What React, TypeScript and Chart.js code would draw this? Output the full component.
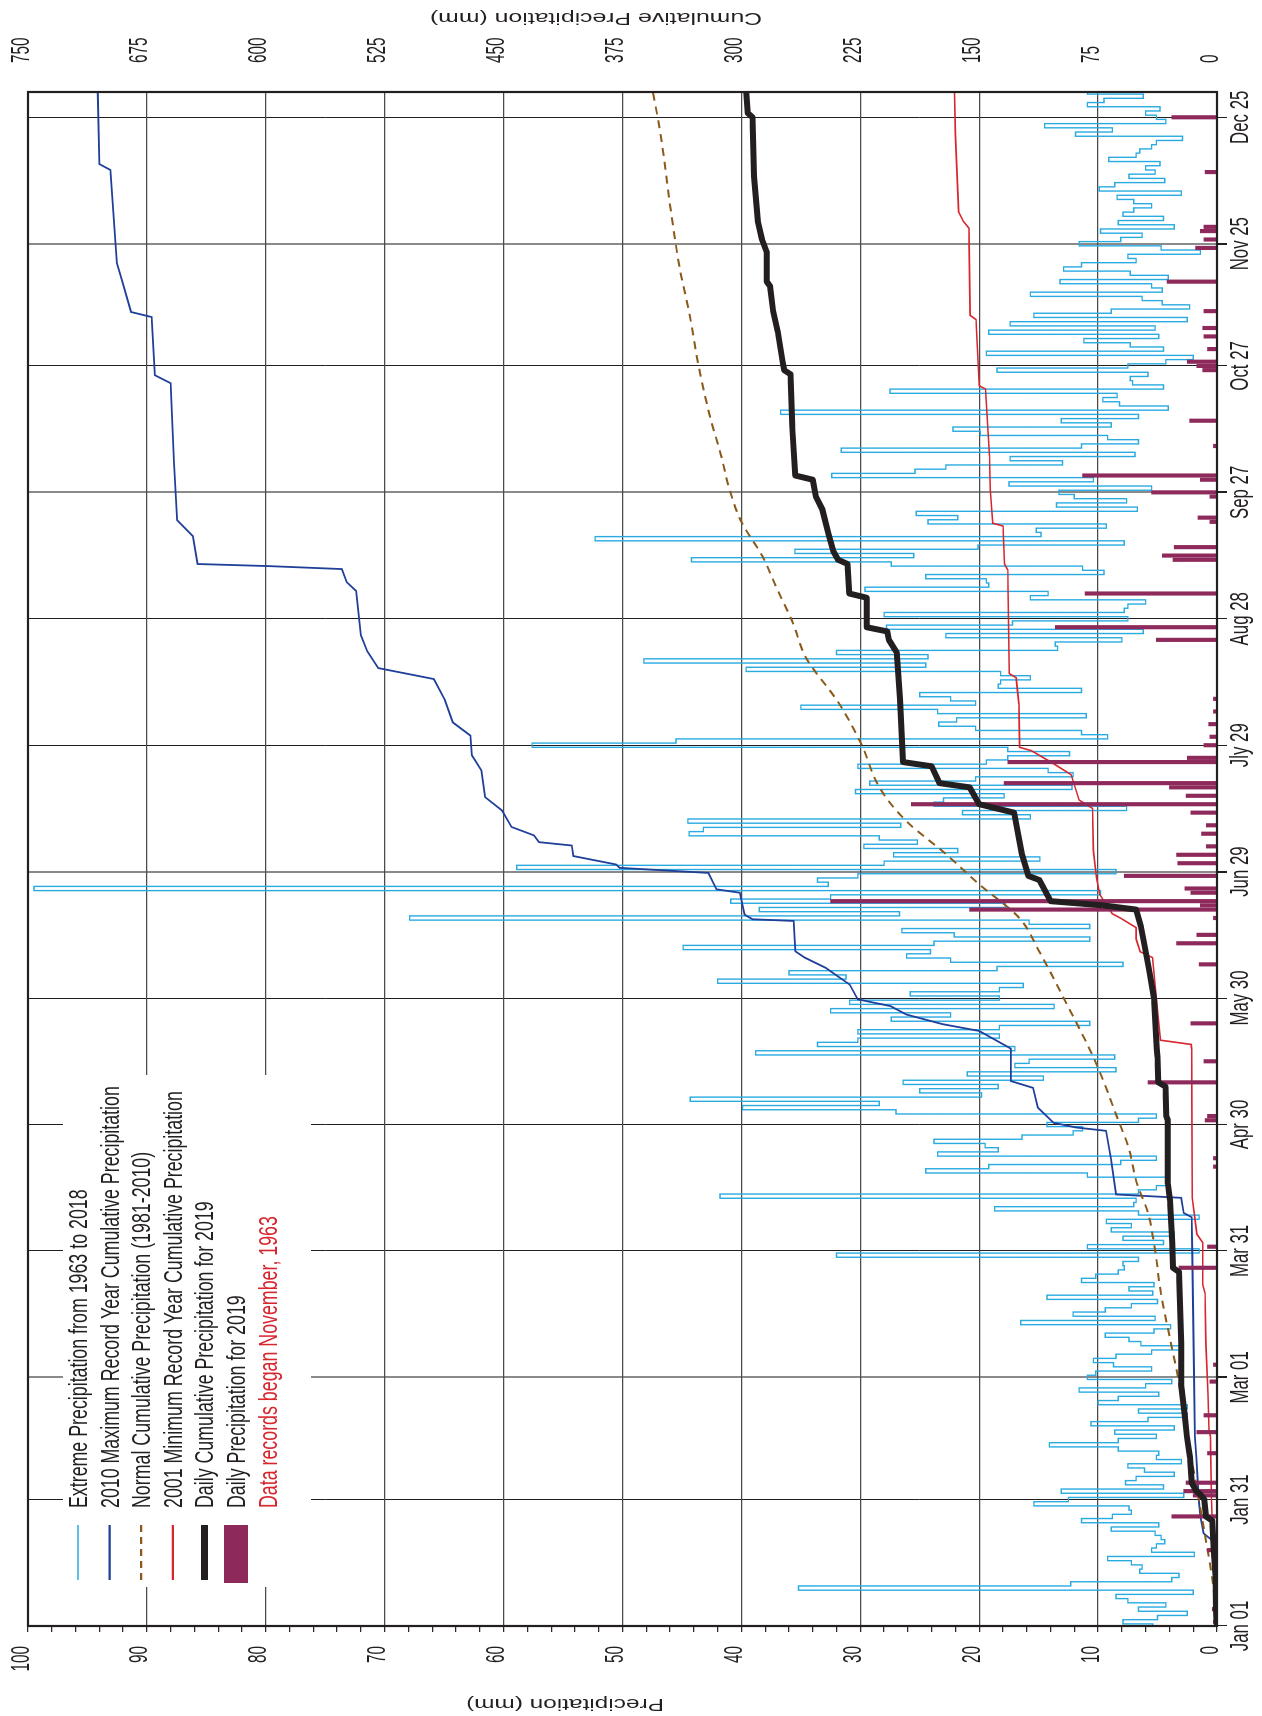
import React, { useEffect, useRef } from 'react';
import { Chart, registerables } from 'chart.js';

Chart.register(...registerables);

// ---------------- data ----------------
const tickDays = [0, 30, 59, 89, 119, 149, 179, 209, 239, 269, 299, 328, 358];
const tickLabels = ['Jan 01', 'Jan 31', 'Mar 01', 'Mar 31', 'Apr 30', 'May 30', 'Jun 29', 'Jly 29', 'Aug 28', 'Sep 27', 'Oct 27', 'Nov 25', 'Dec 25'];

const precipTicks = Array.from({ length: 51 }, (_, i) => i * 2);
const precipLabelTicks = [0, 10, 20, 30, 40, 50, 60, 70, 80, 90, 100];
const cumTicks = [0, 75, 150, 225, 300, 375, 450, 525, 600, 675, 750];

// Extreme daily precipitation 1963-2018, one value per day starting Jan 01
const extremeValues = [
  5.4, 7.9, 5.0, 2.5, 6.6, 4.3, 7.5, 8.5, 2.0, 35.2,
  12.3, 3.8, 3.2, 6.5, 6.3, 7.2, 9.2, 1.9, 5.5, 5.1,
  4.4, 4.7, 5.2, 8.9, 4.9, 11.4, 8.8, 7.2, 7.4, 15.4,
  12.5, 2.8, 13.1, 4.5, 7.7, 6.8, 3.6, 6.1, 7.5, 3.0,
  5.1, 4.9, 8.3, 14.1, 8.3, 5.1, 8.6, 3.6, 10.6, 5.8,
  2.5, 6.6, 2.5, 10.0, 8.3, 4.9, 11.6, 6.0, 3.8, 10.9,
  10.2, 5.5, 8.7, 10.4, 8.5, 5.5, 3.0, 6.4, 7.4, 9.4,
  5.3, 3.9, 16.5, 5.2, 12.1, 9.4, 7.2, 5.0, 14.3, 5.4,
  7.4, 5.3, 11.4, 10.2, 8.3, 7.8, 7.9, 6.6, 32.0, 1.5,
  10.9, 4.5, 7.9, 3.6, 8.9, 7.2, 9.3, 1.5, 6.6, 18.7,
  7.0, 6.8, 41.8, 6.6, 5.1, 4.2, 4.1, 10.9, 24.5, 19.2,
  8.1, 5.1, 23.5, 18.4, 19.5, 23.8, 16.4, 12.1, 11.3, 14.3,
  6.6, 5.1, 27.0, 39.9, 28.4, 44.3, 19.8, 25.0, 18.4, 26.4,
  14.6, 21.0, 8.5, 17.0, 15.8, 8.6, 38.8, 17.0, 33.6, 30.2,
  18.3, 30.2, 18.3, 10.7, 27.4, 22.4, 32.5, 13.7, 30.9, 18.3,
  25.8, 18.3, 16.3, 42.0, 31.2, 36.0, 18.5, 7.9, 22.4, 26.1,
  24.1, 44.9, 23.8, 10.7, 22.1, 26.5, 10.7, 15.8, 67.9, 26.7,
  38.5, 17.8, 40.9, 32.5, 9.8, 99.5, 32.7, 33.6, 30.2, 8.5,
  58.9, 28.0, 14.9, 27.2, 21.8, 29.7, 25.2, 28.4, 44.4, 43.2,
  26.6, 44.5, 15.7, 21.4, 7.6, 23.8, 23.0, 17.9, 30.4, 12.2,
  29.2, 20.3, 12.1, 14.2, 30.2, 19.4, 17.6, 12.4, 17.6, 57.6,
  45.5, 9.2, 11.4, 20.3, 23.4, 21.9, 11.0, 23.5, 35.0, 20.3,
  22.4, 25.0, 11.4, 18.4, 18.2, 15.7, 18.2, 39.6, 24.5, 48.2,
  24.3, 32.0, 13.4, 13.6, 8.0, 22.8, 6.2, 27.8, 17.2, 7.5,
  28.0, 7.8, 7.5, 6.0, 15.7, 14.2, 29.6, 19.2, 19.4, 24.5,
  9.5, 11.3, 27.4, 44.2, 25.5, 35.5, 20.1, 7.8, 52.3, 14.8,
  15.2, 9.3, 24.3, 21.8, 25.3, 6.7, 13.5, 7.6, 12.0, 13.3,
  5.5, 17.5, 10.4, 32.4, 25.4, 22.8, 13.0, 17.4, 6.9, 31.6,
  11.4, 6.6, 9.2, 19.9, 22.2, 8.9, 13.1, 6.6, 36.7, 4.1,
  8.2, 9.6, 8.4, 27.5, 4.5, 7.1, 7.3, 5.8, 18.5, 7.5,
  4.3, 2.0, 19.4, 4.5, 7.3, 11.2, 4.9, 19.2, 5.2, 17.4,
  2.5, 15.4, 8.9, 2.3, 4.6, 6.3, 15.7, 4.6, 5.5, 13.2,
  4.1, 7.3, 12.9, 11.4, 6.8, 7.5, 1.4, 4.7, 11.6, 8.1,
  6.3, 9.8, 3.6, 8.3, 4.5, 7.9, 7.0, 5.5, 7.0, 8.4,
  3.0, 9.9, 8.6, 4.4, 7.4, 5.2, 6.0, 4.8, 9.1, 6.8,
  6.5, 5.5, 5.1, 2.9, 11.9, 8.8, 14.5, 4.3, 5.1, 6.0,
  4.8, 10.9, 9.5, 6.2, 10.9,
];

const max2010Days = [0, 10, 20, 22, 26, 30, 40, 45, 60, 89, 97, 98, 101.6, 102.4, 111, 117.5, 118.3, 119.4, 123, 127.7, 129.3, 137, 141.2, 142.8, 145.1, 147.1, 148.7, 152.2, 156.2, 158.6, 160.1, 167.3, 167.7, 168.8, 174, 174.8, 178.7, 179.9, 180.7, 182.7, 185.2, 186, 187.6, 189.6, 193.5, 196.7, 203, 206.6, 211.3, 214.4, 219.7, 224.7, 227.3, 231.3, 235.1, 245.6, 247.7, 250.8, 251.5, 252, 258.6, 262.4, 276.6, 294.9, 296.8, 310.6, 311.8, 319.6, 323.4, 345.5, 346.9, 364];
const max2010Values = [0, 0.5, 2, 8.5, 10.5, 11.5, 13, 14, 14.5, 15.6, 16, 21, 22.6, 63.7, 67, 70, 89, 103, 113, 116, 130, 130, 150, 173, 196, 206, 226.6, 231.7, 247, 260, 266, 267, 293, 298, 301, 315.7, 320.8, 376.8, 379, 406, 407, 427.7, 430.8, 445, 451, 461.7, 464, 470, 471, 482, 487, 494, 529, 536, 540, 543, 549, 552, 598, 643, 646, 656, 658, 660, 670, 672, 685, 691, 694, 698, 705, 706];

const normalDays = [0, 10, 17.5, 29, 45, 59, 67, 79, 89, 97.7, 105.6, 113.5, 121.4, 129.3, 135, 149, 160, 168, 176, 183.5, 191, 199, 209, 219, 230, 238, 246, 254, 262, 270, 278, 287, 299, 311, 322, 338, 354, 364];
const normalValues = [0, 2.5, 5.7, 11, 18.5, 24.6, 29, 35.4, 39, 43.3, 51, 55.8, 63.7, 71.6, 78, 96.7, 112, 124.7, 150, 172, 196, 213, 224, 238.6, 259.6, 267.5, 277.4, 287, 300, 307.7, 313, 319.8, 327, 332.6, 338.8, 345.3, 351, 355.8];

const min2001Days = [0, 10, 20, 30, 45, 46.5, 55, 67, 79, 81, 91, 93, 101.6, 137, 138, 139, 148, 158.6, 160, 163, 165.7, 168, 169, 173.6, 177.5, 184, 194, 196, 202, 204.6, 207.7, 208.5, 218.8, 225, 226, 250.6, 252, 261, 261.7, 269.7, 277.6, 293.5, 294.3, 310, 311, 331.7, 333.3, 335.6, 354, 364];
const min2001Values = [0, 1.5, 2.5, 3.5, 4.2, 5, 5.7, 7, 7.6, 9, 9, 12.7, 15.6, 16, 16.3, 35.6, 38, 40.7, 48.4, 51, 51, 61, 66, 74, 76, 78, 78.5, 87, 92, 103, 117, 124.5, 125, 126.7, 131, 132, 134, 135, 141.5, 143, 143.5, 146, 150, 152, 155.7, 156.5, 160, 163, 165, 165.6];

const cum2019Days = [0, 1, 4, 12, 18, 25, 26, 30, 31, 32, 34, 40, 45, 50, 57, 67, 84, 85, 91, 101, 105, 120, 121, 128, 129, 135, 137, 149, 156, 162, 166, 170, 171, 172, 177, 178, 183, 193, 195, 199, 200, 204, 205, 220, 231, 234, 236, 237, 244, 245, 252, 253, 255, 259, 265, 268, 272, 273, 285, 297, 298, 300, 307, 312, 318, 319, 326, 329, 333, 344, 358, 359, 364];
const cum2019Values = [0, 0.3, 0.7, 1, 2, 3, 7, 8, 10, 13, 16, 17, 19, 20.4, 22.6, 22.6, 24, 27.7, 28.3, 29.7, 31, 31, 32, 32.5, 37, 37.5, 38, 39.7, 43, 46, 48, 51, 72, 105, 112, 119, 123, 128, 150, 156, 175, 180, 198, 200, 202, 207, 208, 221, 221, 232, 233, 239, 242, 245, 249, 253, 255, 266, 268, 269, 273, 274, 277, 280, 282, 284, 284, 287, 289.5, 292, 293, 296, 297];

const daily2019Days = [1, 4, 12, 18, 26, 31, 32, 34, 41, 46, 50, 58, 62, 85, 90, 109, 111, 120, 121, 129, 134, 143, 157, 162, 164, 168, 170, 171, 172, 174, 175, 178, 181, 183, 185, 188, 190, 193, 195, 197, 199, 200, 205, 206, 209, 211, 214, 217, 220, 234, 237, 245, 253, 254, 256, 262, 263, 268, 269, 272, 273, 280, 286, 298, 299, 300, 303, 306, 308, 312, 319, 327, 329, 331, 332, 345, 358];
const daily2019Values = [0.3, 0.4, 0.3, 0.8, 3.8, 2.0, 2.8, 2.6, 0.8, 1.7, 1.1, 0.6, 0.3, 3.2, 0.8, 0.3, 0.3, 1.0, 0.8, 5.8, 1.1, 2.2, 1.5, 3.4, 1.7, 0.3, 20.8, 1.4, 32.5, 2.2, 2.7, 7.8, 3.3, 3.4, 0.9, 1.3, 0.9, 2.2, 25.7, 2.6, 4.0, 17.9, 17.6, 2.5, 1.1, 0.6, 0.7, 0.3, 0.3, 5.1, 13.6, 11.1, 3.7, 4.6, 3.6, 0.6, 1.6, 0.6, 5.5, 1.4, 11.3, 0.3, 2.3, 1.2, 1.7, 2.5, 0.8, 1.1, 1.2, 1.1, 4.2, 1.8, 1.1, 1.4, 1.1, 1.0, 3.8];

const legendLabels = [
  'Extreme Precipitation from 1963 to 2018',
  '2010 Maximum Record Year Cumulative Precipitation',
  'Normal Cumulative Precipitation (1981-2010)',
  '2001 Minimum Record Year Cumulative Precipitation',
  'Daily Cumulative Precipitation for 2019',
  'Daily Precipitation for 2019',
];
const legendNote = 'Data records began November, 1963';
const precipTitle = 'Precipitation (mm)';
const cumTitle = 'Cumulative Precipitation (mm)';

// ---------------- styles ----------------
const FONT = '"Liberation Sans", Arial, Helvetica, sans-serif';
const INK = '#231f20';
const C_EXTREME = '#29abe2';
const C_MAX = '#1f3f99';
const C_NORMAL = '#8b5a1b';
const C_MIN = '#d7262e';
const C_2019 = '#231f20';
const C_DAILY = '#8e2a5b';
const GRAY_TICK_INDEXES = [2, 6, 9, 11];

// canvas is drawn in the un-rotated orientation, then rotated -90deg with CSS
const CW = 1716;
const CH = 1262;

const pts = (xs: number[], ys: number[]) => xs.map((x, i) => ({ x, y: ys[i] }));

// text with separate sizes along canvas x (sx) and canvas y (sy)
function drawText(ctx: any, text: string, x: number, y: number, sx: number, sy: number, align: string, baseline: string, color: string) {
  ctx.save();
  ctx.translate(x, y);
  ctx.scale(sx / sy, 1);
  ctx.font = `${sy}px ${FONT}`;
  ctx.textAlign = align;
  ctx.textBaseline = baseline;
  ctx.fillStyle = color;
  ctx.fillText(text, 0, 0);
  ctx.restore();
}

// text reading bottom-to-top in the canvas (upside-down once the page is rotated)
function drawTitle(ctx: any, text: string, x: number, y: number, along: number, across: number) {
  ctx.save();
  ctx.translate(x, y);
  ctx.rotate(-Math.PI / 2);
  ctx.scale(1, across / along);
  ctx.font = `${along}px ${FONT}`;
  ctx.textAlign = 'center';
  ctx.textBaseline = 'alphabetic';
  ctx.fillStyle = INK;
  ctx.fillText(text, 0, 0);
  ctx.restore();
}

const overlayPlugin = {
  id: 'overlay',
  beforeDatasetsDraw(chart: any) {
    const { ctx } = chart;
    ctx.save();
    ctx.fillStyle = '#ffffff';
    ctx.fillRect(129, 63, 512, 248);
    ctx.restore();
  },
  afterDatasetsDraw(chart: any) {
    const { ctx, chartArea: a } = chart;
    ctx.save();
    ctx.strokeStyle = INK;
    ctx.lineWidth = 2.2;
    ctx.strokeRect(a.left, a.top, a.right - a.left, a.bottom - a.top);
    ctx.restore();
  },
  afterDraw(chart: any) {
    const { ctx, scales } = chart;
    const sx = scales.x;
    const sy = scales.y;
    const sy2 = scales.y2;

    // date labels
    tickDays.forEach((d, i) => {
      drawText(ctx, tickLabels[i], sx.getPixelForValue(d), 1248, 16.8, 25, 'center', 'alphabetic', INK);
    });
    // precipitation labels
    precipLabelTicks.forEach((v) => {
      drawText(ctx, String(v), 70, sy.getPixelForValue(v) + 0.5, 15.3, 26, 'right', 'alphabetic', INK);
    });
    // cumulative labels
    cumTicks.forEach((v) => {
      drawText(ctx, String(v), 1653, sy2.getPixelForValue(v) + 0.5, 15.3, 26, 'left', 'alphabetic', INK);
    });
    // titles
    drawTitle(ctx, precipTitle, 17, 565, 24.4, 16.8);
    drawTitle(ctx, cumTitle, 1703, 596, 24.8, 16.8);

    // legend
    ctx.save();
    const x0 = 136;
    const x1 = 191;
    const tx = 208;
    const rowY = (i: number) => 78 + 31.6 * i;
    const line = (y: number) => {
      ctx.beginPath();
      ctx.moveTo(x0, y);
      ctx.lineTo(x1, y);
      ctx.stroke();
    };
    const markers: Array<(y: number) => void> = [
      (y) => { ctx.strokeStyle = C_EXTREME; ctx.lineWidth = 1.6; ctx.setLineDash([]); line(y); },
      (y) => { ctx.strokeStyle = C_MAX; ctx.lineWidth = 2.2; ctx.setLineDash([]); line(y); },
      (y) => { ctx.strokeStyle = C_NORMAL; ctx.lineWidth = 2.2; ctx.setLineDash([7, 5]); line(y); },
      (y) => { ctx.strokeStyle = C_MIN; ctx.lineWidth = 2.2; ctx.setLineDash([]); line(y); },
      (y) => { ctx.strokeStyle = C_2019; ctx.lineWidth = 7; ctx.setLineDash([]); line(y); },
      (y) => { ctx.fillStyle = C_DAILY; ctx.fillRect(x0 - 3, y - 12, x1 - x0 + 3, 24); },
    ];
    legendLabels.forEach((label, i) => {
      const y = rowY(i);
      markers[i](y);
      ctx.setLineDash([]);
      drawText(ctx, label, tx, y + 9, 17.8, 25.5, 'left', 'alphabetic', INK);
    });
    drawText(ctx, legendNote, tx, rowY(legendLabels.length) + 9, 17.8, 25.5, 'left', 'alphabetic', C_MIN);
    ctx.restore();
  },
};

export default function App() {
  const ref = useRef<HTMLCanvasElement | null>(null);

  useEffect(() => {
    const canvas = ref.current;
    if (!canvas) return;
    Chart.defaults.font.family = FONT;
    const chart = new Chart(canvas, {
      type: 'line',
      data: {
        datasets: [
          {
            type: 'line',
            label: legendLabels[4],
            data: pts(cum2019Days, cum2019Values),
            yAxisID: 'y2',
            borderColor: C_2019,
            borderWidth: 6,
            pointRadius: 0,
            tension: 0,
            borderJoinStyle: 'round',
            borderCapStyle: 'butt',
            order: 0,
          },
          {
            type: 'bar',
            label: legendLabels[5],
            data: pts(daily2019Days, daily2019Values),
            yAxisID: 'y',
            backgroundColor: C_DAILY,
            borderWidth: 0,
            barThickness: 3.5,
            order: 1,
          },
          {
            type: 'line',
            label: legendLabels[3],
            data: pts(min2001Days, min2001Values),
            yAxisID: 'y2',
            borderColor: C_MIN,
            borderWidth: 1.6,
            pointRadius: 0,
            tension: 0,
            order: 2,
          },
          {
            type: 'line',
            label: legendLabels[2],
            data: pts(normalDays, normalValues),
            yAxisID: 'y2',
            borderColor: C_NORMAL,
            borderWidth: 2,
            borderDash: [8, 6],
            pointRadius: 0,
            cubicInterpolationMode: 'monotone',
            order: 3,
          },
          {
            type: 'line',
            label: legendLabels[1],
            data: pts(max2010Days, max2010Values),
            yAxisID: 'y2',
            borderColor: C_MAX,
            borderWidth: 1.8,
            pointRadius: 0,
            tension: 0,
            order: 4,
          },
          {
            type: 'line',
            label: legendLabels[0],
            data: extremeValues.map((v, i) => ({ x: i, y: v })),
            yAxisID: 'y',
            borderColor: C_EXTREME,
            borderWidth: 1.4,
            pointRadius: 0,
            stepped: 'middle',
            order: 5,
          },
        ],
      },
      options: {
        responsive: false,
        animation: false,
        devicePixelRatio: 1,
        layout: { padding: { top: 28, left: 0, right: 0, bottom: 0 } },
        plugins: { legend: { display: false }, tooltip: { enabled: false } },
        scales: {
          x: {
            type: 'linear',
            min: 0,
            max: 364,
            offset: false,
            afterBuildTicks: (axis: any) => {
              axis.ticks = tickDays.map((v) => ({ value: v }));
            },
            afterFit: (s: any) => {
              s.height = 45;
            },
            ticks: { display: false, autoSkip: false },
            grid: {
              offset: false,
              color: (c: any) => (GRAY_TICK_INDEXES.includes(c.index) ? '#8a8a8a' : INK),
              lineWidth: (c: any) => (GRAY_TICK_INDEXES.includes(c.index) ? 2 : 1),
              tickLength: 10,
              tickColor: INK,
            },
            border: { display: false },
          },
          y: {
            type: 'linear',
            position: 'left',
            min: 0,
            max: 100,
            afterBuildTicks: (axis: any) => {
              axis.ticks = precipTicks.map((v) => ({ value: v }));
            },
            afterFit: (s: any) => {
              s.width = 90;
            },
            ticks: { display: false, autoSkip: false },
            grid: {
              color: (c: any) => (c.tick && c.tick.value % 10 === 0 ? '#4a4a4a' : 'rgba(0,0,0,0)'),
              lineWidth: 1.3,
              tickLength: 6,
              tickColor: INK,
              tickWidth: 1.2,
            },
            border: { display: false },
          },
          y2: {
            type: 'linear',
            position: 'right',
            min: 0,
            max: 750,
            afterBuildTicks: (axis: any) => {
              axis.ticks = cumTicks.map((v) => ({ value: v }));
            },
            afterFit: (s: any) => {
              s.width = 92;
            },
            ticks: { display: false, autoSkip: false },
            grid: { drawOnChartArea: false, drawTicks: false },
            border: { display: false },
          },
        },
      } as any,
      plugins: [overlayPlugin],
    } as any);
    return () => chart.destroy();
  }, []);

  return (
    <div style={{ position: 'absolute', left: 0, top: 0, width: 1262, height: 1716, overflow: 'hidden', background: '#ffffff' }}>
      <div
        style={{
          position: 'absolute',
          left: 0,
          top: 0,
          width: CW,
          height: CH,
          transformOrigin: '0 0',
          transform: `translateY(${CW}px) rotate(-90deg)`,
        }}
      >
        <canvas ref={ref} width={CW} height={CH} style={{ display: 'block', width: CW, height: CH }} />
      </div>
    </div>
  );
}
